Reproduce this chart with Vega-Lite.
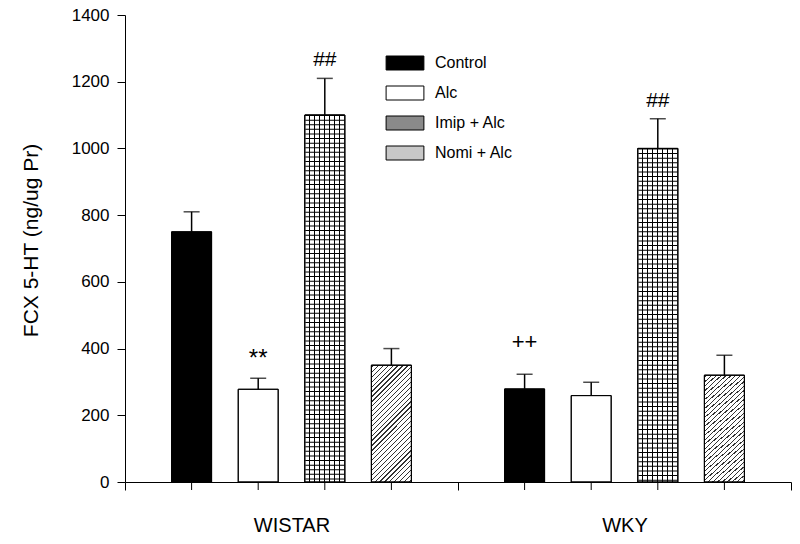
{
  "$schema": "https://vega.github.io/schema/vega-lite/v6.json",
  "width": 666,
  "height": 467,
  "autosize": "none",
  "padding": {"left": 125, "top": 15, "right": 9, "bottom": 62},
  "background": "#ffffff",
  "config": {
    "font": "Liberation Sans",
    "view": {"stroke": null},
    "axis": {"domainColor": "#000", "tickColor": "#000", "labelColor": "#000", "titleColor": "#000", "grid": false, "tickSize": 8, "domainWidth": 1, "tickWidth": 1}
  },
  "data": {
    "values": [
      {"strain": "WISTAR", "treatment": "Control", "mean": 750, "upper": 810, "label": ""},
      {"strain": "WISTAR", "treatment": "Alc", "mean": 278, "upper": 311, "label": "**"},
      {"strain": "WISTAR", "treatment": "Imip + Alc", "mean": 1100, "upper": 1210, "label": "##"},
      {"strain": "WISTAR", "treatment": "Nomi + Alc", "mean": 350, "upper": 400, "label": ""},
      {"strain": "WKY", "treatment": "Control", "mean": 279, "upper": 323, "label": "++"},
      {"strain": "WKY", "treatment": "Alc", "mean": 259, "upper": 299, "label": ""},
      {"strain": "WKY", "treatment": "Imip + Alc", "mean": 1000, "upper": 1089, "label": "##"},
      {"strain": "WKY", "treatment": "Nomi + Alc", "mean": 320, "upper": 380, "label": ""}
    ]
  },
  "encoding": {
    "x": {
      "field": "strain", "type": "nominal", "sort": ["WISTAR", "WKY"],
      "scale": {"paddingInner": 0, "paddingOuter": 0},
      "axis": {"title": null, "labelAngle": 0, "tickBand": "extent", "labelFontSize": 20, "labelPadding": 25}
    },
    "xOffset": {
      "field": "treatment", "type": "nominal",
      "sort": ["Control", "Alc", "Imip + Alc", "Nomi + Alc"],
      "scale": {"paddingInner": 0.4, "paddingOuter": 0.7}
    }
  },
  "layer": [
    {
      "mark": {"type": "bar", "stroke": "#000", "strokeWidth": 1},
      "encoding": {
        "y": {
          "field": "mean", "type": "quantitative", "title": "FCX 5-HT (ng/ug Pr)",
          "scale": {"domain": [0, 1400], "nice": false},
          "axis": {"values": [0, 200, 400, 600, 800, 1000, 1200, 1400], "format": "d", "labelFontSize": 17, "labelPadding": 8, "titleFontSize": 21, "titleFontWeight": "normal", "titlePadding": 30, "titleY": 225}
        },
        "fill": {
          "field": "treatment", "type": "nominal",
          "scale": {"domain": ["Control", "Alc", "Imip + Alc", "Nomi + Alc"], "range": ["#000000", "#ffffff", "#8a8a8a", "#c8c8c8"]},
          "legend": {
            "orient": "none", "legendX": 272, "legendY": 40, "title": null, "padding": 0,
            "symbolType": "M-2.7,-1H2.7V1H-2.7Z", "symbolSize": 196, "labelFontSize": 16, "labelColor": "#000",
            "labelOffset": 22, "rowPadding": 12, "symbolStrokeColor": "#000", "symbolStrokeWidth": 1, "symbolOpacity": 1
          }
        }
      }
    },
    {
      "transform": [{"filter": "datum.treatment === 'Imip + Alc'"}],
      "mark": {"type": "bar", "stroke": "#000", "strokeWidth": 1, "fill": {"gradient": "linear", "x1": 0, "y1": 0, "x2": 1, "y2": 0, "stops": [
        {"offset": 0.1125, "color": "#fff"}, {"offset": 0.1125, "color": "#000"}, {"offset": 0.1375, "color": "#000"}, {"offset": 0.1375, "color": "#fff"},
        {"offset": 0.2375, "color": "#fff"}, {"offset": 0.2375, "color": "#000"}, {"offset": 0.2625, "color": "#000"}, {"offset": 0.2625, "color": "#fff"},
        {"offset": 0.3625, "color": "#fff"}, {"offset": 0.3625, "color": "#000"}, {"offset": 0.3875, "color": "#000"}, {"offset": 0.3875, "color": "#fff"},
        {"offset": 0.4875, "color": "#fff"}, {"offset": 0.4875, "color": "#000"}, {"offset": 0.5125, "color": "#000"}, {"offset": 0.5125, "color": "#fff"},
        {"offset": 0.6125, "color": "#fff"}, {"offset": 0.6125, "color": "#000"}, {"offset": 0.6375, "color": "#000"}, {"offset": 0.6375, "color": "#fff"},
        {"offset": 0.7375, "color": "#fff"}, {"offset": 0.7375, "color": "#000"}, {"offset": 0.7625, "color": "#000"}, {"offset": 0.7625, "color": "#fff"},
        {"offset": 0.8625, "color": "#fff"}, {"offset": 0.8625, "color": "#000"}, {"offset": 0.8875, "color": "#000"}, {"offset": 0.8875, "color": "#fff"}
      ]}},
      "encoding": {
        "y": {"field": "mean", "type": "quantitative", "title": "FCX 5-HT (ng/ug Pr)"}
      }
    },
    {
      "transform": [{"filter": "datum.treatment === 'Imip + Alc'"}],
      "mark": {"type": "rule", "color": "#000", "strokeWidth": 39, "strokeDash": [1, 3.6], "strokeCap": "butt"},
      "encoding": {
        "y": {"field": "mean", "type": "quantitative", "title": "FCX 5-HT (ng/ug Pr)"},
        "y2": {"datum": 0}
      }
    },
    {
      "transform": [{"filter": "datum.treatment === 'Nomi + Alc'"}],
      "mark": {"type": "bar", "stroke": "#000", "strokeWidth": 1, "fill": {"gradient": "linear", "x1": 0, "y1": 0, "x2": 0.4117, "y2": 1.2016, "stops": [
        {"offset": 0.0116, "color": "#fff"}, {"offset": 0.0116, "color": "#333"}, {"offset": 0.0196, "color": "#333"}, {"offset": 0.0196, "color": "#fff"},
        {"offset": 0.0429, "color": "#fff"}, {"offset": 0.0429, "color": "#333"}, {"offset": 0.0509, "color": "#333"}, {"offset": 0.0509, "color": "#fff"},
        {"offset": 0.0741, "color": "#fff"}, {"offset": 0.0741, "color": "#333"}, {"offset": 0.0821, "color": "#333"}, {"offset": 0.0821, "color": "#fff"},
        {"offset": 0.1054, "color": "#fff"}, {"offset": 0.1054, "color": "#333"}, {"offset": 0.1134, "color": "#333"}, {"offset": 0.1134, "color": "#fff"},
        {"offset": 0.1366, "color": "#fff"}, {"offset": 0.1366, "color": "#333"}, {"offset": 0.1446, "color": "#333"}, {"offset": 0.1446, "color": "#fff"},
        {"offset": 0.1679, "color": "#fff"}, {"offset": 0.1679, "color": "#333"}, {"offset": 0.1759, "color": "#333"}, {"offset": 0.1759, "color": "#fff"},
        {"offset": 0.1991, "color": "#fff"}, {"offset": 0.1991, "color": "#333"}, {"offset": 0.2071, "color": "#333"}, {"offset": 0.2071, "color": "#fff"},
        {"offset": 0.2304, "color": "#fff"}, {"offset": 0.2304, "color": "#333"}, {"offset": 0.2384, "color": "#333"}, {"offset": 0.2384, "color": "#fff"},
        {"offset": 0.2616, "color": "#fff"}, {"offset": 0.2616, "color": "#333"}, {"offset": 0.2696, "color": "#333"}, {"offset": 0.2696, "color": "#fff"},
        {"offset": 0.2929, "color": "#fff"}, {"offset": 0.2929, "color": "#333"}, {"offset": 0.3009, "color": "#333"}, {"offset": 0.3009, "color": "#fff"},
        {"offset": 0.3241, "color": "#fff"}, {"offset": 0.3241, "color": "#333"}, {"offset": 0.3321, "color": "#333"}, {"offset": 0.3321, "color": "#fff"},
        {"offset": 0.3554, "color": "#fff"}, {"offset": 0.3554, "color": "#333"}, {"offset": 0.3634, "color": "#333"}, {"offset": 0.3634, "color": "#fff"},
        {"offset": 0.3866, "color": "#fff"}, {"offset": 0.3866, "color": "#333"}, {"offset": 0.3946, "color": "#333"}, {"offset": 0.3946, "color": "#fff"},
        {"offset": 0.4179, "color": "#fff"}, {"offset": 0.4179, "color": "#333"}, {"offset": 0.4259, "color": "#333"}, {"offset": 0.4259, "color": "#fff"},
        {"offset": 0.4491, "color": "#fff"}, {"offset": 0.4491, "color": "#333"}, {"offset": 0.4571, "color": "#333"}, {"offset": 0.4571, "color": "#fff"},
        {"offset": 0.4804, "color": "#fff"}, {"offset": 0.4804, "color": "#333"}, {"offset": 0.4884, "color": "#333"}, {"offset": 0.4884, "color": "#fff"},
        {"offset": 0.5116, "color": "#fff"}, {"offset": 0.5116, "color": "#333"}, {"offset": 0.5196, "color": "#333"}, {"offset": 0.5196, "color": "#fff"},
        {"offset": 0.5429, "color": "#fff"}, {"offset": 0.5429, "color": "#333"}, {"offset": 0.5509, "color": "#333"}, {"offset": 0.5509, "color": "#fff"},
        {"offset": 0.5741, "color": "#fff"}, {"offset": 0.5741, "color": "#333"}, {"offset": 0.5821, "color": "#333"}, {"offset": 0.5821, "color": "#fff"},
        {"offset": 0.6054, "color": "#fff"}, {"offset": 0.6054, "color": "#333"}, {"offset": 0.6134, "color": "#333"}, {"offset": 0.6134, "color": "#fff"},
        {"offset": 0.6366, "color": "#fff"}, {"offset": 0.6366, "color": "#333"}, {"offset": 0.6446, "color": "#333"}, {"offset": 0.6446, "color": "#fff"},
        {"offset": 0.6679, "color": "#fff"}, {"offset": 0.6679, "color": "#333"}, {"offset": 0.6759, "color": "#333"}, {"offset": 0.6759, "color": "#fff"},
        {"offset": 0.6991, "color": "#fff"}, {"offset": 0.6991, "color": "#333"}, {"offset": 0.7071, "color": "#333"}, {"offset": 0.7071, "color": "#fff"},
        {"offset": 0.7304, "color": "#fff"}, {"offset": 0.7304, "color": "#333"}, {"offset": 0.7384, "color": "#333"}, {"offset": 0.7384, "color": "#fff"},
        {"offset": 0.7616, "color": "#fff"}, {"offset": 0.7616, "color": "#333"}, {"offset": 0.7696, "color": "#333"}, {"offset": 0.7696, "color": "#fff"},
        {"offset": 0.7929, "color": "#fff"}, {"offset": 0.7929, "color": "#333"}, {"offset": 0.8009, "color": "#333"}, {"offset": 0.8009, "color": "#fff"},
        {"offset": 0.8241, "color": "#fff"}, {"offset": 0.8241, "color": "#333"}, {"offset": 0.8321, "color": "#333"}, {"offset": 0.8321, "color": "#fff"},
        {"offset": 0.8554, "color": "#fff"}, {"offset": 0.8554, "color": "#333"}, {"offset": 0.8634, "color": "#333"}, {"offset": 0.8634, "color": "#fff"},
        {"offset": 0.8866, "color": "#fff"}, {"offset": 0.8866, "color": "#333"}, {"offset": 0.8946, "color": "#333"}, {"offset": 0.8946, "color": "#fff"},
        {"offset": 0.9179, "color": "#fff"}, {"offset": 0.9179, "color": "#333"}, {"offset": 0.9259, "color": "#333"}, {"offset": 0.9259, "color": "#fff"},
        {"offset": 0.9491, "color": "#fff"}, {"offset": 0.9491, "color": "#333"}, {"offset": 0.9571, "color": "#333"}, {"offset": 0.9571, "color": "#fff"},
        {"offset": 0.9804, "color": "#fff"}, {"offset": 0.9804, "color": "#333"}, {"offset": 0.9884, "color": "#333"}, {"offset": 0.9884, "color": "#fff"}
      ]}},
      "encoding": {
        "y": {"field": "mean", "type": "quantitative", "title": "FCX 5-HT (ng/ug Pr)"}
      }
    },
    {
      "mark": {"type": "bar", "fillOpacity": 0, "stroke": "#000", "strokeWidth": 1},
      "encoding": {
        "y": {"field": "mean", "type": "quantitative", "title": "FCX 5-HT (ng/ug Pr)"}
      }
    },
    {
      "mark": {"type": "rule", "color": "#000", "strokeWidth": 1.5},
      "encoding": {
        "y": {"field": "mean", "type": "quantitative", "title": "FCX 5-HT (ng/ug Pr)"},
        "y2": {"field": "upper"}
      }
    },
    {
      "mark": {"type": "tick", "color": "#000", "thickness": 1.5, "size": 16, "orient": "horizontal"},
      "encoding": {
        "y": {"field": "upper", "type": "quantitative", "title": "FCX 5-HT (ng/ug Pr)"}
      }
    },
    {
      "mark": {"type": "rule", "color": "#000", "strokeWidth": 1, "y2Offset": 8},
      "encoding": {
        "y": {"datum": 0, "type": "quantitative"},
        "y2": {"datum": 0}
      }
    },
    {
      "transform": [{"filter": "datum.label === '##'"}],
      "mark": {"type": "text", "fontSize": 21, "color": "#000", "baseline": "alphabetic", "dy": -12},
      "encoding": {
        "y": {"field": "upper", "type": "quantitative", "title": "FCX 5-HT (ng/ug Pr)"},
        "text": {"field": "label"}
      }
    },
    {
      "transform": [{"filter": "datum.label === '**'"}],
      "mark": {"type": "text", "fontSize": 24, "color": "#000", "baseline": "alphabetic", "dy": -12},
      "encoding": {
        "y": {"field": "upper", "type": "quantitative", "title": "FCX 5-HT (ng/ug Pr)"},
        "text": {"field": "label"}
      }
    },
    {
      "transform": [{"filter": "datum.label === '++'"}],
      "mark": {"type": "text", "fontSize": 22, "color": "#000", "baseline": "alphabetic", "dy": -25},
      "encoding": {
        "y": {"field": "upper", "type": "quantitative", "title": "FCX 5-HT (ng/ug Pr)"},
        "text": {"field": "label"}
      }
    }
  ]
}
